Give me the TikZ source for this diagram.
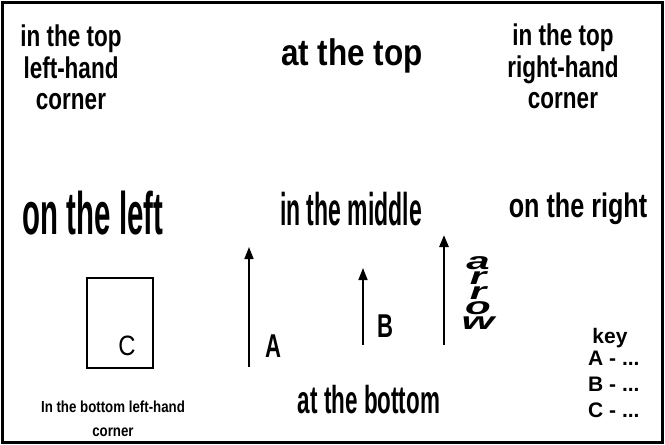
\documentclass[tikz,border=0pt]{standalone}
\usepackage{fontspec}
\setmainfont{Liberation Sans}
\usetikzlibrary{arrows.meta, positioning}

\newcommand{\pxsize}[2]{\fontsize{#1}{#2}\selectfont}

\begin{document}
\begin{tikzpicture}[x=1pt,y=-1pt,
  word/.style={inner sep=0pt, anchor=base},
  cornertxt/.style={inner sep=0pt, anchor=north, align=center, xscale=0.75,
    font=\pxsize{30}{31.5}\bfseries},
  keyline/.style={inner sep=0pt, anchor=base west, font=\pxsize{21}{21}\bfseries},
  uparrow/.style={-{Triangle[width=9pt,length=12pt]}, line width=1.6pt}]
  \path[use as bounding box] (0,0) rectangle (665,445);
  \draw[line width=3pt] (2.5,2.5) rectangle (662.5,442.5);

  % top row
  \node[cornertxt] (topleft) at (71,25) {in the top\\left-hand\\corner};
  \node[word, xscale=0.85, font=\pxsize{37}{37}\bfseries] (top) at (352,65) {at the top};
  \node[cornertxt] (topright) at (563,24) {in the top\\right-hand\\corner};

  % middle row
  \node[word, xscale=0.49, font=\pxsize{60}{60}\bfseries] (left) at (93,234) {on the left};
  \node[word, xscale=0.5, font=\pxsize{46}{46}\bfseries] (middle) at (351,225) {in the middle};
  \node[word, xscale=0.74, font=\pxsize{34}{34}\bfseries] (right) at (578,217) {on the right};

  % arrows
  \coordinate (aBot) at (249,367);
  \coordinate (aTop) at (249,247);
  \coordinate (bBot) at (363,345);
  \coordinate (bTop) at (363,268);
  \coordinate (wBot) at (444,345);
  \coordinate (wTop) at (444,235);
  \draw[uparrow] (aBot) -- (aTop);
  \draw[uparrow] (bBot) -- (bTop);
  \draw[uparrow, line width=2.6pt] (wBot) -- (wTop);
  \node[word, xscale=0.67, font=\pxsize{33}{33}\bfseries] (labA) at (273,357) {A};
  \node[word, xscale=0.67, font=\pxsize{33}{33}\bfseries] (labB) at (385,337) {B};
  \node[inner sep=0pt, anchor=north, align=center, xscale=1.75,
    font=\pxsize{24}{15.2}\bfseries\itshape] (arrowword) at (478,256) {a\\r\\r\\o\\w};

  % box C
  \draw[line width=2pt] (87,278) rectangle (153,368);
  \node[word, xscale=0.85, font=\pxsize{28}{28}] (labC) at (127,355) {C};

  % bottom row
  \node[inner sep=0pt, anchor=north, align=center, xscale=0.83,
    font=\pxsize{16}{24}\bfseries] (botleft) at (113,401) {In the bottom left-hand\\corner};
  \node[word, xscale=0.575, font=\pxsize{39}{39}\bfseries] (bottom) at (369,413) {at the bottom};

  % key
  \node[word, font=\pxsize{21}{21}\bfseries] (key) at (610,343) {key};
  \node[keyline] (keyA) at (588,365) {A - ...};
  \node[keyline] (keyB) at (588,391) {B - ...};
  \node[keyline] (keyC) at (588,417) {C - ...};
\end{tikzpicture}
\end{document}
